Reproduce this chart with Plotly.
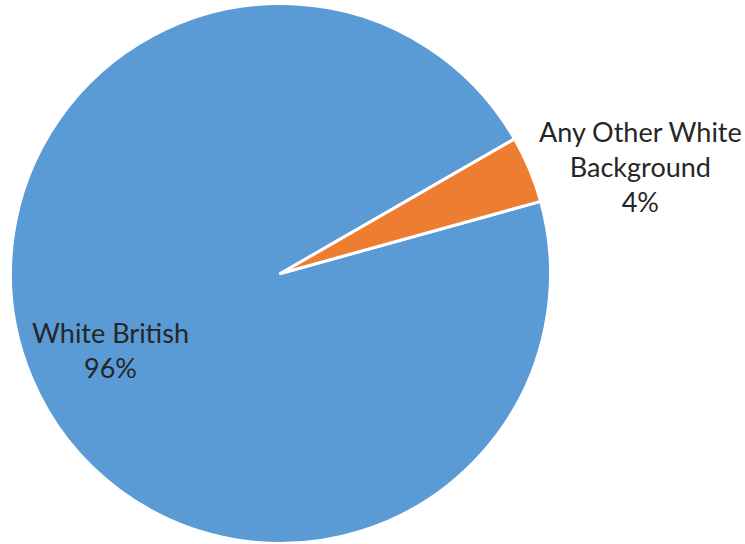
import plotly.graph_objects as go

# Ethnic group breakdown
labels = ["White British", "Any Other White Background"]
values = [96, 4]
colors = ["#5B9BD5", "#ED7D31"]
label_text = ["White British", "Any Other White<br>Background"]

W, H = 745, 544
total = sum(values)
pcts = [round(v / total * 100) for v in values]

fig = go.Figure(
    go.Pie(
        labels=labels,
        values=values,
        sort=False,
        direction="clockwise",
        rotation=74.5,
        marker=dict(colors=colors, line=dict(color="white", width=3)),
        textinfo="none",
        hoverinfo="label+percent",
        showlegend=False,
        domain=dict(x=[10.5 / W, 550.5 / W], y=[0.5 / H, 540.5 / H]),
    )
)

# Label positions in pixels (x, y from top)
label_pos = [(110, 350), (640, 166)]
for txt, pct, (px, py) in zip(label_text, pcts, label_pos):
    fig.add_annotation(
        x=px / W,
        y=1 - py / H,
        xref="paper",
        yref="paper",
        text=f"{txt}<br>{pct}%",
        showarrow=False,
        xanchor="center",
        yanchor="middle",
        align="center",
        font=dict(family="Lato", size=27, color="#262626"),
    )

fig.update_layout(
    width=W,
    height=H,
    margin=dict(l=0, r=0, t=0, b=0),
    paper_bgcolor="white",
    plot_bgcolor="white",
)

fig.write_html("out.html")
